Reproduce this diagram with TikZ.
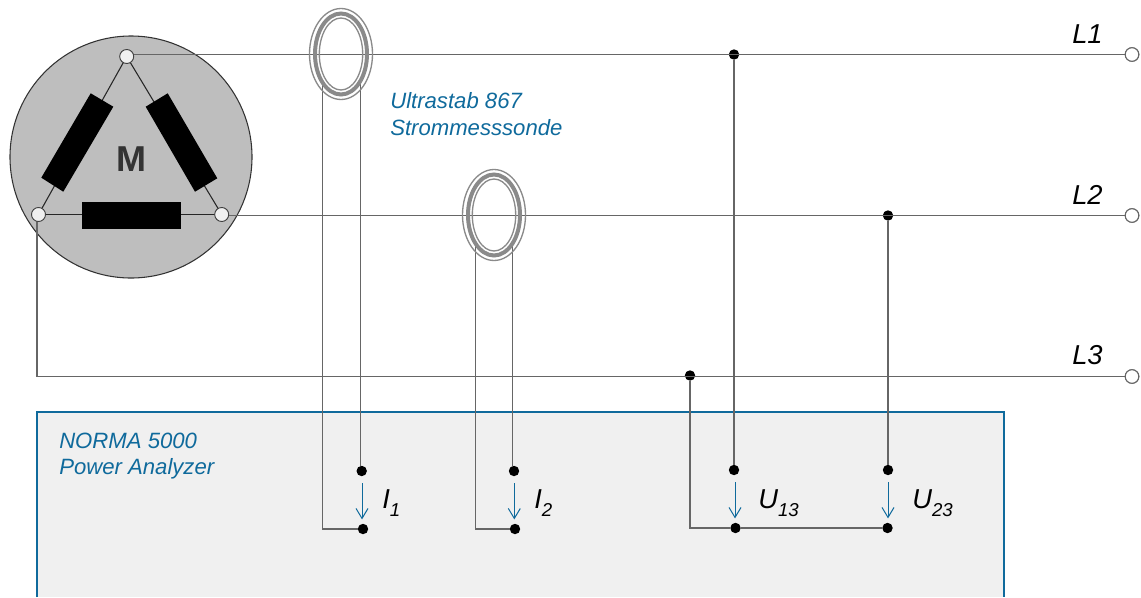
\documentclass[tikz,border=0pt]{standalone}
\usepackage{fontspec}
\setmainfont{Liberation Sans}
\usetikzlibrary{arrows.meta}
\definecolor{nblue}{HTML}{0F6A9C}
\definecolor{wiregray}{HTML}{666666}
\definecolor{motorgray}{HTML}{BEBEBE}
\definecolor{ringgray}{HTML}{8A8A8A}
\definecolor{panel}{HTML}{F0F0F0}
\newcommand{\subtxt}[2]{#1\raisebox{-0.3em}{\fontsize{14pt}{15pt}\selectfont #2}}
\tikzset{
  wire/.style={draw=wiregray,line width=0.95pt},
  thinwire/.style={draw=black!85,line width=0.8pt},
  dotn/.style={circle,fill=black,inner sep=0pt,outer sep=0pt,minimum size=7.8pt},
  term/.style={circle,draw=black!75,line width=0.7pt,fill=panel,inner sep=0pt,outer sep=0pt,minimum size=10.5pt},
  endterm/.style={circle,draw=wiregray,line width=0.8pt,fill=white,inner sep=0pt,outer sep=0pt,minimum size=10.2pt},
  res/.style={fill=black,draw=none},
  ringthin/.style={draw=ringgray,line width=1pt},
  ringthick/.style={draw=ringgray,line width=3pt},
  bluetxt/.style={text=nblue,font=\fontsize{16.6pt}{18pt}\selectfont\itshape,anchor=base west,inner sep=0pt},
  linetxt/.style={text=black,font=\fontsize{20.5pt}{22pt}\selectfont\itshape,anchor=base west,inner sep=0pt},
  meas/.style={draw=nblue,line width=0.75pt,-{Straight Barb[length=7.5pt,width=9pt,line width=0.75pt]},shorten >=7.2pt,shorten <=9pt},
}
\newcommand{\ringset}[1]{%
  \draw[ringthin] (#1) ellipse [x radius=31.5,y radius=45.5];
  \draw[ringthick] (#1) ellipse [x radius=26,y radius=40.5];
  \draw[ringthin] (#1) ellipse [x radius=21.7,y radius=36];
}
\begin{document}
\begin{tikzpicture}[x=0.75pt,y=-0.75pt]
\path[use as bounding box] (0,0) rectangle (1141,597);
% panel
\fill[panel] (37,412) rectangle (1004,597);
\draw[nblue,line width=1.1pt] (37,597) -- (37,412) -- (1004,412) -- (1004,597);
% motor
\node[circle,draw=black!80,line width=0.8pt,fill=motorgray,inner sep=0pt,outer sep=0pt,minimum size=181.5pt] (motor) at (131,157) {};
% named points
\coordinate (c1) at (37,376.5);
\coordinate (c2) at (322.8,529);
\coordinate (c3) at (475.2,529);
\coordinate (c4) at (690,528);
\coordinate (p1) at (322.8,83);
\coordinate (p2) at (360.5,83);
\coordinate (p3) at (475.2,244);
\coordinate (p4) at (512.7,244);
\coordinate (a1) at (362,0);
\coordinate (a2) at (514.3,0);
\coordinate (a3) at (735,0);
\coordinate (a4) at (888,0);
\node[dotn] (j1) at (734,54.5) {};
\node[dotn] (j2) at (888,215.5) {};
\node[dotn] (j3) at (690,375.5) {};
\node[dotn] (i1t) at (361.7,471) {};
\node[dotn] (i1b) at (363,529) {};
\node[dotn] (i2t) at (514,471) {};
\node[dotn] (i2b) at (515,529) {};
\node[dotn] (u1t) at (734,470) {};
\node[dotn] (u1b) at (735.5,528) {};
\node[dotn] (u2t) at (888,470) {};
\node[dotn] (u2b) at (887.5,528) {};
\node[endterm] (e1) at (1132,54.5) {};
\node[endterm] (e2) at (1132,215.5) {};
\node[endterm] (e3) at (1132,376.5) {};
% motor inner wiring (terminal positions)
\coordinate (cT) at (126.7,56.5);
\coordinate (cL) at (38.5,214.5);
\coordinate (cR) at (221.7,214.5);
\draw[thinwire] (cT) -- (cL);
\draw[thinwire] (cT) -- (cR);
\draw[thinwire] (cL) -- (cR);
\fill[res] (90.7,93.3) -- (113.3,106.7) -- (63.3,191.7) -- (41.3,177.7) -- cycle;
\fill[res] (167.7,93.3) -- (145.7,106.7) -- (195,191.7) -- (217.3,178.3) -- cycle;
\fill[res] (82,202) rectangle (181,229);
\node[font=\fontsize{27pt}{30pt}\selectfont\bfseries,text=black!80,inner sep=0pt] (mlabel) at (131,159) {M};
% lines
\draw[wire] (cT |- j1) -- (e1);
\draw[wire] (cR |- j2) -- (e2);
\draw[wire] (c1 |- cL) -- (c1) -- (e3);
% probe leads
\draw[wire] (p1) -- (c2) -- (i1b);
\draw[wire] (p2) -- (p2 |- i1t.north);
\draw[wire] (p3) -- (c3) -- (i2b);
\draw[wire] (p4) -- (p4 |- i2t.north);
% voltage leads
\draw[wire] (j1) -- (u1t);
\draw[wire] (j2) -- (u2t);
\draw[wire] (j3) -- (c4) -- (u1b) -- (u2b);
% rings
\ringset{341,54}
\ringset{494,215}
% terminals above wires
\node[term] (tT) at (cT) {};
\node[term] (tL) at (cL) {};
\node[term] (tR) at (cR) {};
% end terminals redrawn above wires
\node[endterm] at (e1) {};
\node[endterm] at (e2) {};
\node[endterm] at (e3) {};
% measurement arrows
\draw[meas] (a1 |- i1t) -- (a1 |- i1b);
\draw[meas] (a2 |- i2t) -- (a2 |- i2b);
\draw[meas] (a3 |- u1t) -- (a3 |- u1b);
\draw[meas] (a4 |- u2t) -- (a4 |- u2b);
% labels
\node[bluetxt] (t1) at (390,108.5) {Ultrastab 867};
\node[bluetxt] (t2) at (390,135.5) {Strommesssonde};
\node[bluetxt] (t3) at (59,448.5) {NORMA 5000};
\node[bluetxt] (t4) at (59,474.5) {Power Analyzer};
\node[linetxt] (l1) at (1072,43) {L1};
\node[linetxt] (l2) at (1072,204) {L2};
\node[linetxt] (l3) at (1072,364.5) {L3};
\node[linetxt] (n1) at (382,508) {\subtxt{I}{1}};
\node[linetxt] (n2) at (534,508) {\subtxt{I}{2}};
\node[linetxt] (n3) at (758,508) {\subtxt{U}{13}};
\node[linetxt] (n4) at (912,508) {\subtxt{U}{23}};
\end{tikzpicture}
\end{document}
